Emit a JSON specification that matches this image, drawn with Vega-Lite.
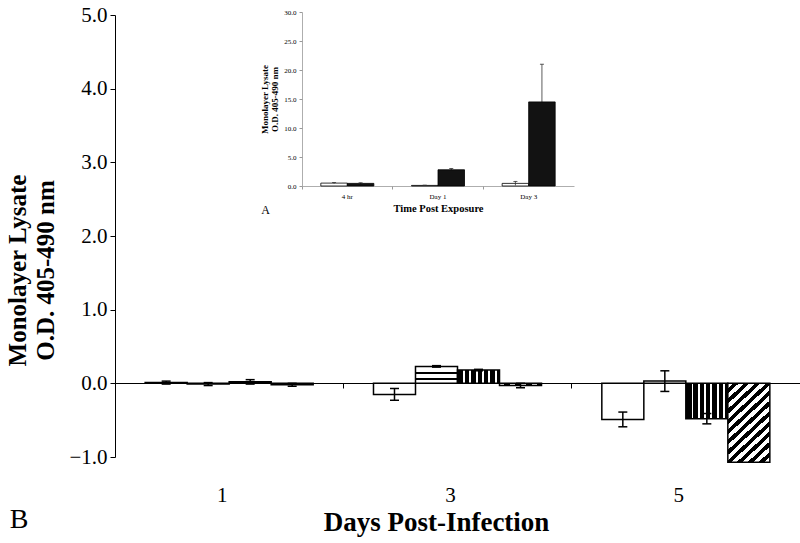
{
  "$schema": "https://vega.github.io/schema/vega-lite/v6.json",
  "width": 685,
  "height": 442,
  "autosize": {"type": "none"},
  "padding": {"left": 115, "top": 15, "right": 0, "bottom": 86},
  "background": "white",
  "config": {
    "view": {"stroke": null},
    "font": "Liberation Serif",
    "axis": {"grid": false, "labelFont": "Liberation Serif", "titleFont": "Liberation Serif", "labelColor": "black", "titleColor": "black"}
  },
  "datasets": {
    "main": [
      {"day": "1", "series": "A", "value": 0.01, "lo": -0.01, "hi": 0.03},
      {"day": "1", "series": "B", "value": -0.01, "lo": -0.03, "hi": 0.01},
      {"day": "1", "series": "C", "value": 0.02, "lo": -0.01, "hi": 0.05},
      {"day": "1", "series": "D", "value": -0.02, "lo": -0.04, "hi": 0.0},
      {"day": "3", "series": "A", "value": -0.15, "lo": -0.23, "hi": -0.07},
      {"day": "3", "series": "B", "value": 0.23, "lo": 0.22, "hi": 0.24},
      {"day": "3", "series": "C", "value": 0.18, "lo": 0.17, "hi": 0.19},
      {"day": "3", "series": "D", "value": -0.03, "lo": -0.06, "hi": 0.0},
      {"day": "5", "series": "A", "value": -0.49, "lo": -0.59, "hi": -0.39},
      {"day": "5", "series": "B", "value": 0.03, "lo": -0.11, "hi": 0.17},
      {"day": "5", "series": "C", "value": -0.48, "lo": -0.55, "hi": -0.41},
      {"day": "5", "series": "D", "value": -1.07, "lo": null, "hi": null}
    ],
    "inset": [
      {"time": "4 hr", "grp": "W", "od": 0.5, "lo2": 0.4, "hi2": 0.6},
      {"time": "4 hr", "grp": "K", "od": 0.45, "lo2": 0.35, "hi2": 0.55},
      {"time": "Day 1", "grp": "W", "od": 0.1, "lo2": 0.05, "hi2": 0.15},
      {"time": "Day 1", "grp": "K", "od": 2.8, "lo2": 2.6, "hi2": 3.0},
      {"time": "Day 3", "grp": "W", "od": 0.45, "lo2": 0.1, "hi2": 0.8},
      {"time": "Day 3", "grp": "K", "od": 14.5, "lo2": 8.0, "hi2": 21.0}
    ]
  },
  "layer": [
    {
      "data": {"name": "main"},
      "layer": [
        {
          "transform": [{"filter": "datum.series == 'A'"}],
          "mark": {"type": "bar", "fill": "white", "stroke": "black", "strokeWidth": 1.5},
          "encoding": {
            "x": {"field": "day", "type": "nominal", "scale": {"domain": ["1", "3", "5"], "paddingInner": 0, "paddingOuter": 0}, "axis": {"orient": "bottom", "offset": -74, "title": "Days Post-Infection", "titleFontSize": 27, "titleFontWeight": "bold", "titleX": 321, "titlePadding": 4, "labelFontSize": 21, "labelAngle": 0, "labelPadding": 96, "labelOffset": -7, "bandPosition": 0, "tickSize": 5, "tickColor": "black", "domainColor": "black", "domainWidth": 1}},
            "xOffset": {"field": "series", "type": "nominal", "scale": {"domain": ["A", "B", "C", "D"], "paddingInner": 0, "paddingOuter": 0.718}},
            "y": {"field": "value", "type": "quantitative", "scale": {"domain": [-1, 5], "nice": false, "zero": false}, "axis": {"orient": "left", "values": [-1, 0, 1, 2, 3, 4, 5], "format": ".1f", "labelFontSize": 21, "labelPadding": 3, "tickSize": 5, "tickColor": "black", "domainColor": "black", "domainWidth": 1, "title": ["Monolayer Lysate", "O.D. 405-490 nm"], "titleFontSize": 25, "titleFontWeight": "bold", "titleLineHeight": 28, "titlePadding": 10, "titleY": 255}}
          }
        },
        {
          "transform": [{"filter": "datum.series == 'B'"}],
          "mark": {"type": "bar", "stroke": "black", "strokeWidth": 1.5, "fill": {"gradient": "linear", "x1": 0, "y1": 0, "x2": 0, "y2": 1, "stops": [
            {"offset": 0, "color": "white"}, {"offset": 0.35, "color": "white"}, {"offset": 0.35, "color": "black"}, {"offset": 0.44, "color": "black"}, {"offset": 0.44, "color": "white"}, {"offset": 0.71, "color": "white"}, {"offset": 0.71, "color": "black"}, {"offset": 0.8, "color": "black"}, {"offset": 0.8, "color": "white"}, {"offset": 1, "color": "white"}]}},
          "encoding": {"x": {"field": "day", "type": "nominal"}, "xOffset": {"field": "series", "type": "nominal"}, "y": {"field": "value", "type": "quantitative"}}
        },
        {
          "transform": [{"filter": "datum.series == 'C'"}],
          "mark": {"type": "bar", "stroke": "black", "strokeWidth": 1.5, "fill": {"gradient": "linear", "x1": 0, "y1": 0, "x2": 1, "y2": 0, "stops": [
            {"offset": 0, "color": "black"}, {"offset": 0.135, "color": "black"}, {"offset": 0.135, "color": "white"}, {"offset": 0.18, "color": "white"}, {"offset": 0.18, "color": "black"},
            {"offset": 0.285, "color": "black"}, {"offset": 0.285, "color": "white"}, {"offset": 0.33, "color": "white"}, {"offset": 0.33, "color": "black"},
            {"offset": 0.435, "color": "black"}, {"offset": 0.435, "color": "white"}, {"offset": 0.48, "color": "white"}, {"offset": 0.48, "color": "black"},
            {"offset": 0.585, "color": "black"}, {"offset": 0.585, "color": "white"}, {"offset": 0.63, "color": "white"}, {"offset": 0.63, "color": "black"},
            {"offset": 0.735, "color": "black"}, {"offset": 0.735, "color": "white"}, {"offset": 0.78, "color": "white"}, {"offset": 0.78, "color": "black"},
            {"offset": 0.885, "color": "black"}, {"offset": 0.885, "color": "white"}, {"offset": 0.93, "color": "white"}, {"offset": 0.93, "color": "black"}, {"offset": 1, "color": "black"}]}},
          "encoding": {"x": {"field": "day", "type": "nominal"}, "xOffset": {"field": "series", "type": "nominal"}, "y": {"field": "value", "type": "quantitative"}}
        },
        {
          "transform": [{"filter": "datum.series == 'D'"}],
          "mark": {"type": "bar", "stroke": "black", "strokeWidth": 1.5, "fill": {"gradient": "linear", "x1": 0, "y1": 0, "x2": 1, "y2": 2, "stops": [
            {"offset": 0, "color": "white"},
            {"offset": 0.026, "color": "white"}, {"offset": 0.026, "color": "black"},
            {"offset": 0.052, "color": "black"}, {"offset": 0.052, "color": "white"},
            {"offset": 0.078, "color": "white"}, {"offset": 0.078, "color": "black"},
            {"offset": 0.104, "color": "black"}, {"offset": 0.104, "color": "white"},
            {"offset": 0.13, "color": "white"}, {"offset": 0.13, "color": "black"},
            {"offset": 0.156, "color": "black"}, {"offset": 0.156, "color": "white"},
            {"offset": 0.182, "color": "white"}, {"offset": 0.182, "color": "black"},
            {"offset": 0.208, "color": "black"}, {"offset": 0.208, "color": "white"},
            {"offset": 0.234, "color": "white"}, {"offset": 0.234, "color": "black"},
            {"offset": 0.26, "color": "black"}, {"offset": 0.26, "color": "white"},
            {"offset": 0.286, "color": "white"}, {"offset": 0.286, "color": "black"},
            {"offset": 0.312, "color": "black"}, {"offset": 0.312, "color": "white"},
            {"offset": 0.338, "color": "white"}, {"offset": 0.338, "color": "black"},
            {"offset": 0.364, "color": "black"}, {"offset": 0.364, "color": "white"},
            {"offset": 0.39, "color": "white"}, {"offset": 0.39, "color": "black"},
            {"offset": 0.416, "color": "black"}, {"offset": 0.416, "color": "white"},
            {"offset": 0.442, "color": "white"}, {"offset": 0.442, "color": "black"},
            {"offset": 0.468, "color": "black"}, {"offset": 0.468, "color": "white"},
            {"offset": 0.494, "color": "white"}, {"offset": 0.494, "color": "black"},
            {"offset": 0.52, "color": "black"}, {"offset": 0.52, "color": "white"},
            {"offset": 0.546, "color": "white"}, {"offset": 0.546, "color": "black"},
            {"offset": 0.572, "color": "black"}, {"offset": 0.572, "color": "white"},
            {"offset": 0.598, "color": "white"}, {"offset": 0.598, "color": "black"},
            {"offset": 0.624, "color": "black"}, {"offset": 0.624, "color": "white"},
            {"offset": 1, "color": "white"}]}},
          "encoding": {"x": {"field": "day", "type": "nominal"}, "xOffset": {"field": "series", "type": "nominal"}, "y": {"field": "value", "type": "quantitative"}}
        },
        {
          "transform": [{"filter": "datum.lo != null"}],
          "mark": {"type": "rule", "color": "black", "strokeWidth": 1.5},
          "encoding": {"x": {"field": "day", "type": "nominal"}, "xOffset": {"field": "series", "type": "nominal"}, "y": {"field": "lo", "type": "quantitative"}, "y2": {"field": "hi"}}
        },
        {
          "transform": [{"filter": "datum.lo != null"}],
          "mark": {"type": "tick", "color": "black", "size": 9, "thickness": 1.5, "opacity": 1},
          "encoding": {"x": {"field": "day", "type": "nominal"}, "xOffset": {"field": "series", "type": "nominal"}, "y": {"field": "lo", "type": "quantitative"}}
        },
        {
          "transform": [{"filter": "datum.hi != null"}],
          "mark": {"type": "tick", "color": "black", "size": 9, "thickness": 1.5, "opacity": 1},
          "encoding": {"x": {"field": "day", "type": "nominal"}, "xOffset": {"field": "series", "type": "nominal"}, "y": {"field": "hi", "type": "quantitative"}}
        },
        {
          "data": {"values": [{}]},
          "mark": {"type": "text", "text": "A", "font": "Liberation Serif", "fontSize": 12, "color": "black", "baseline": "middle", "align": "center"},
          "encoding": {"x": {"datum": "1", "bandPosition": 0.659}, "y": {"datum": 2.35}}
        },
        {
          "data": {"values": [{}]},
          "mark": {"type": "text", "text": "B", "font": "Liberation Serif", "fontSize": 28, "color": "black", "baseline": "middle", "align": "center"},
          "encoding": {"x": {"datum": "1", "bandPosition": -0.42}, "y": {"datum": -1.86}}
        }
      ]
    },
    {
      "data": {"name": "inset"},
      "layer": [
        {
          "transform": [{"filter": "datum.grp == 'W'"}],
          "mark": {"type": "bar", "fill": "white", "stroke": "black", "strokeWidth": 0.8},
          "encoding": {
            "x": {"field": "time", "type": "nominal", "scale": {"domain": ["4 hr", "Day 1", "Day 3"], "range": [187, 459], "paddingInner": 0, "paddingOuter": 0}, "axis": {"orient": "bottom", "offset": -271, "title": "Time Post Exposure", "titleFontSize": 10.5, "titleFontWeight": "bold", "titlePadding": 4, "labelFontSize": 7, "labelAngle": 0, "labelPadding": 3, "bandPosition": 0, "tickSize": 3, "tickColor": "#999", "domainColor": "#999", "domainWidth": 0.8}},
            "xOffset": {"field": "grp", "type": "nominal", "scale": {"domain": ["W", "K"], "paddingInner": 0, "paddingOuter": 0.71}},
            "y": {"field": "od", "type": "quantitative", "scale": {"domain": [0, 30], "range": [171, -3], "nice": false}, "axis": {"orient": "left", "offset": -187, "values": [0, 5, 10, 15, 20, 25, 30], "format": ".1f", "labelFontSize": 7, "labelPadding": 3, "tickSize": 3, "tickColor": "#999", "domainColor": "#999", "domainWidth": 0.8, "title": ["Monolayer Lysate", "O.D. 405-490 nm"], "titleFontSize": 9, "titleFontWeight": "bold", "titleLineHeight": 10, "titlePadding": 4}}
          }
        },
        {
          "mark": {"type": "rule", "color": "#333", "strokeWidth": 0.8},
          "encoding": {"x": {"field": "time", "type": "nominal"}, "xOffset": {"field": "grp", "type": "nominal"}, "y": {"field": "lo2", "type": "quantitative"}, "y2": {"field": "hi2"}}
        },
        {
          "transform": [{"filter": "datum.grp == 'K'"}],
          "mark": {"type": "bar", "fill": "#121212", "stroke": "black", "strokeWidth": 0.8},
          "encoding": {"x": {"field": "time", "type": "nominal"}, "xOffset": {"field": "grp", "type": "nominal"}, "y": {"field": "od", "type": "quantitative"}}
        },
        {
          "mark": {"type": "tick", "color": "#333", "size": 4, "thickness": 0.8, "opacity": 1},
          "encoding": {"x": {"field": "time", "type": "nominal"}, "xOffset": {"field": "grp", "type": "nominal"}, "y": {"field": "hi2", "type": "quantitative"}}
        }
      ]
    }
  ],
  "resolve": {
    "scale": {"x": "independent", "y": "independent", "xOffset": "independent"},
    "axis": {"x": "independent", "y": "independent"}
  }
}
